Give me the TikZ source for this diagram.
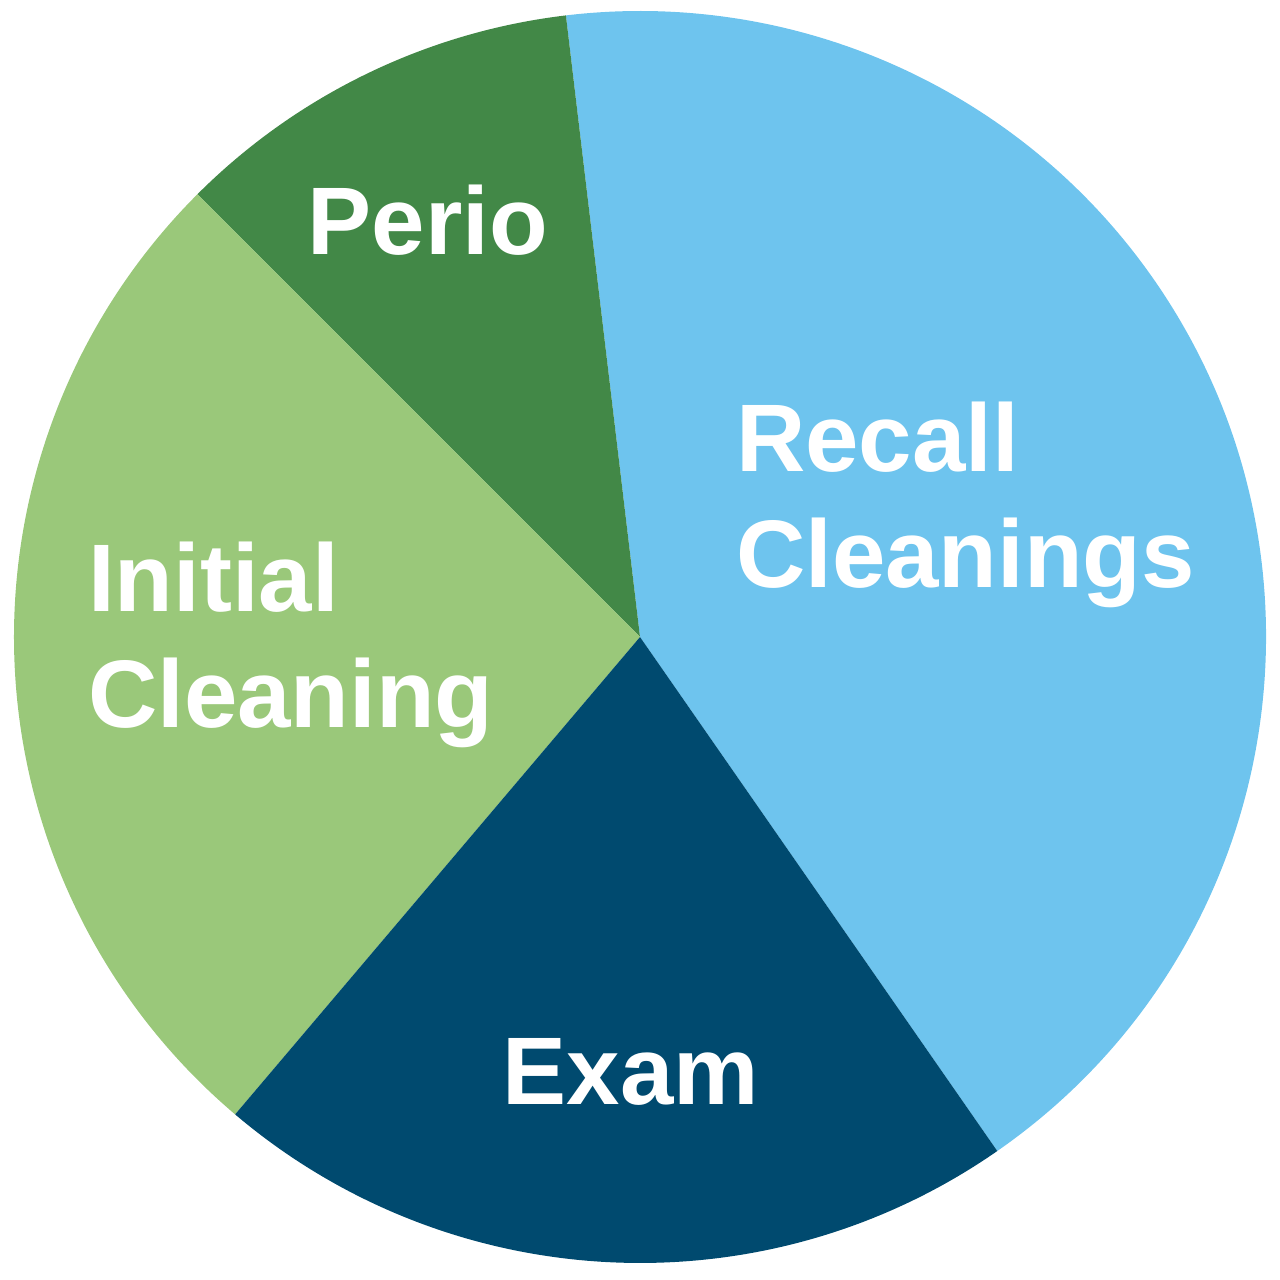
\documentclass[tikz,border=0pt]{standalone}
\usepackage{fontspec}
\setmainfont{Liberation Sans}
\definecolor{lblue}{HTML}{6EC4EE}
\definecolor{dgreen}{HTML}{428847}
\definecolor{lgreen}{HTML}{9AC87A}
\definecolor{dblue}{HTML}{004A6F}
\begin{document}
\begin{tikzpicture}[x=1pt,y=1pt,
  lbl/.style={text=white,font=\fontsize{96}{116}\selectfont\bfseries,inner sep=0pt}]
\useasboundingbox (0,0) rectangle (1280,1280);
\coordinate (c) at (640,643);
\def\R{626}
\fill[lblue]  (c) -- ++(-55.2:\R) arc (-55.2:96.8:\R) -- cycle;
\fill[dgreen] (c) -- ++(96.8:\R) arc (96.8:135:\R) -- cycle;
\fill[lgreen] (c) -- ++(135:\R) arc (135:229.7:\R) -- cycle;
\fill[dblue]  (c) -- ++(229.7:\R) arc (229.7:304.8:\R) -- cycle;
\node[lbl,anchor=base] (perio) at (428,1025) {Perio};
\node[lbl,anchor=base west] (recall1) at (736,808) {Recall};
\node[lbl,anchor=base west] (recall2) at (736,692) {Cleanings};
\node[lbl,anchor=base west] (init1) at (88,668) {Initial};
\node[lbl,anchor=base west] (init2) at (88,552) {Cleaning};
\node[lbl,anchor=base] (exam) at (631,175) {Exam};
\end{tikzpicture}
\end{document}
